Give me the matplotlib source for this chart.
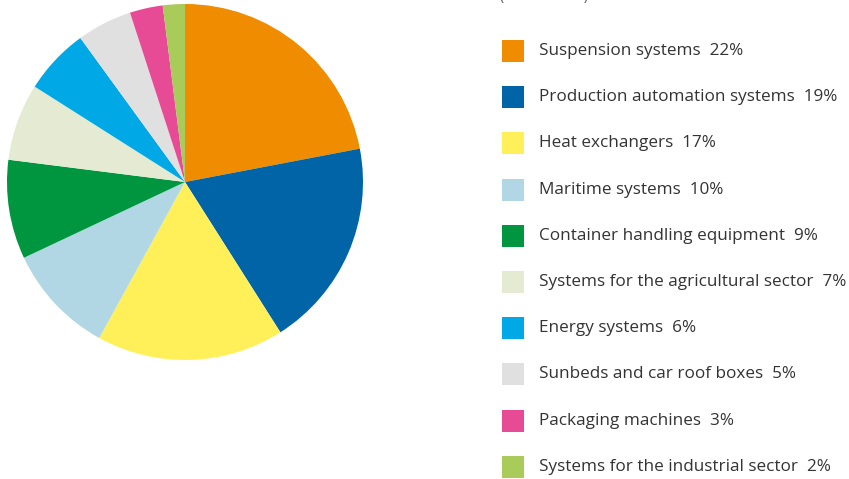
import matplotlib.pyplot as plt
from matplotlib.patches import Rectangle

labels = ['Suspension systems', 'Production automation systems', 'Heat exchangers',
          'Maritime systems', 'Container handling equipment',
          'Systems for the agricultural sector', 'Energy systems',
          'Sunbeds and car roof boxes', 'Packaging machines',
          'Systems for the industrial sector']
shares = [22, 19, 17, 10, 9, 7, 6, 5, 3, 2]
colors = ['#F08C00', '#0064A6', '#FFF05A', '#B0D7E3', '#009640',
          '#E4EBD2', '#00A9E6', '#E0E0E0', '#E84B96', '#A8CB5A']

plt.rcParams['font.family'] = ['Open Sans', 'DejaVu Sans']

W, H = 849, 479
fig = plt.figure(figsize=(W / 100, H / 100), dpi=100)

# pie: centre ~ (185, 182), radius ~178 px
cx, cy, r = 185, 182, 178
ax = fig.add_axes([(cx - r) / W, 1 - (cy + r) / H, 2 * r / W, 2 * r / H])
ax.pie(shares, colors=colors, startangle=90, counterclock=False,
       wedgeprops=dict(linewidth=0))
ax.set_xlim(-1, 1)
ax.set_ylim(-1, 1)
ax.set_aspect('equal')
ax.axis('off')

# title line cut off at the top of the image
fig.text(500 / W, 1 + 4 / H, '(in % of sales)', fontsize=10, color='#555555',
         ha='left', va='center')

# legend drawn by hand
y0, dy = 51, 46.2
for i, (lab, val, col) in enumerate(zip(labels, shares, colors)):
    yc = y0 + i * dy
    fig.patches.append(Rectangle((502 / W, 1 - (yc + 11) / H), 22 / W, 22 / H,
                                 transform=fig.transFigure, facecolor=col,
                                 edgecolor='none'))
    fig.text(539 / W, 1 - yc / H, f'{lab}  {val}%', fontsize=12.3,
             color='#333333', ha='left', va='center')

fig.savefig('out.png', dpi=100)
